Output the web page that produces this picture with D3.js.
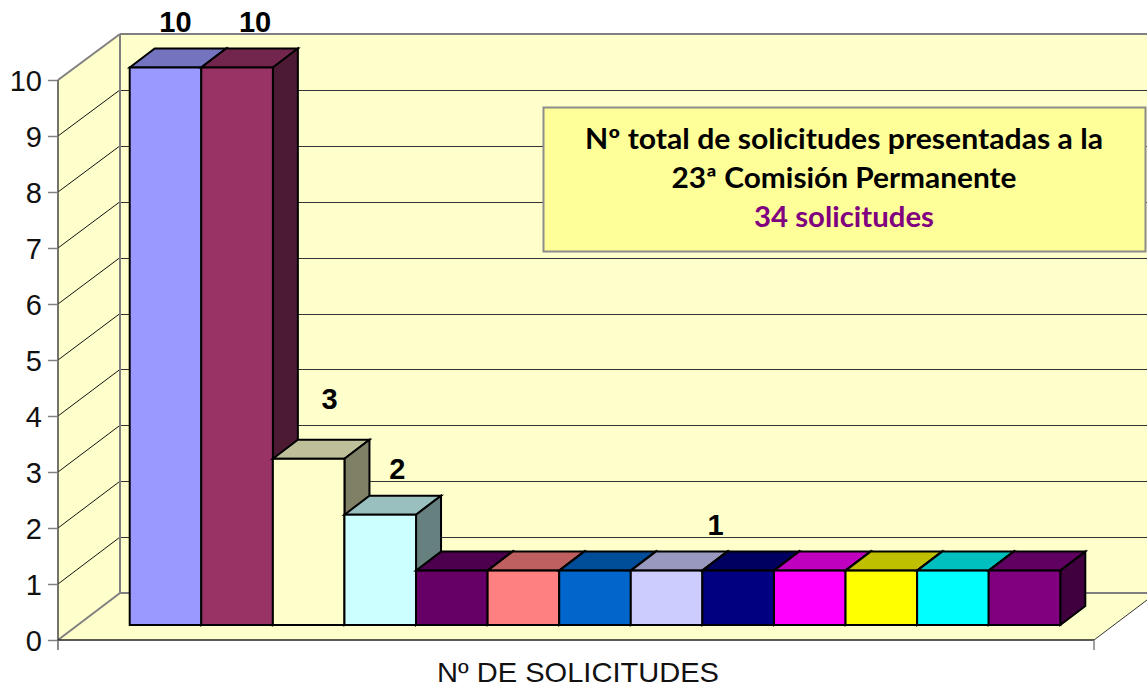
<!DOCTYPE html>
<html><head><meta charset="utf-8">
<script src="https://cdn.jsdelivr.net/npm/d3@7/dist/d3.min.js"></script>
<style>html,body{margin:0;padding:0;background:#fff;overflow:hidden}svg{display:block}</style>
</head><body><svg id="c" width="1147" height="688"></svg>
<script>
const categories = ["A","B","C","D","E","F","G","H","I","J","K","L","M"];
const seriesValues = [10,10,3,2,1,1,1,1,1,1,1,1,1];
const barColors = ["#9999ff","#993366","#ffffcc","#ccffff","#660066","#ff8080","#0066cc","#ccccff","#000080","#ff00ff","#ffff00","#00ffff","#800080"];
const yTicks = [0,1,2,3,4,5,6,7,8,9,10];
const axisTitle = "Nº DE SOLICITUDES";
const boxLines = ["Nº total de solicitudes presentadas a la","23ª Comisión Permanente","34 solicitudes"];
const labelledBars = ["A","B","C","D","H"];

const svg = d3.select("#c");
const W = 1147;
const frontX = 58, frontR = 1094, backX = 120, backTop = 34, backBot = 593, frontTop = 80, frontBot = 640;
const yFront = d3.scaleLinear().domain([0,10]).range([frontBot,frontTop]);
const yBack = d3.scaleLinear().domain([0,10]).range([backBot,backTop]);
const yBar = d3.scaleLinear().domain([0,10]).range([626.5,67.5]);
const barBase = 625;
const x = d3.scaleBand().domain(categories).range([129.7,1060.3]).padding(0);
const dx = 25, dy = 19;

// walls + floor
svg.append("path").attr("d",`M${frontX},${frontTop}L${backX},${backTop}L${W},${backTop}L${W},600L${frontR},${frontBot}L${frontX},${frontBot}Z`).attr("fill","#ffffcc");

// gridlines
const g = svg.append("g");
g.selectAll("line.back").data(yTicks.filter(t=>t>0&&t<10)).join("line").attr("class","back")
 .attr("x1",backX).attr("x2",W).attr("y1",d=>Math.round(yBack(d))+.5).attr("y2",d=>Math.round(yBack(d))+.5)
 .attr("stroke","#333").attr("stroke-width",1);
g.selectAll("line.side").data(yTicks.filter(t=>t>0&&t<10)).join("line").attr("class","side")
 .attr("x1",frontX).attr("x2",backX).attr("y1",d=>yFront(d)).attr("y2",d=>yBack(d))
 .attr("stroke","#111").attr("stroke-width",1);

// wall edges
const edge = (a,b,c,d,col,w)=>svg.append("line").attr("x1",a).attr("y1",b).attr("x2",c).attr("y2",d).attr("stroke",col).attr("stroke-width",w);
edge(backX,backTop,W,backTop,"#808080",2);
edge(backX,backTop,backX,backBot,"#808080",2);
edge(backX,backBot,W,backBot,"#808080",2);
edge(frontX,frontTop,backX,backTop,"#808080",2);
edge(frontX,frontBot,backX,backBot,"#808080",2);
edge(frontR,frontBot,W,600,"#333",1);

// axis
const axis = d3.axisLeft(yFront).tickValues(yTicks).tickSize(10).tickPadding(6).tickFormat(d3.format("d"));
const ag = svg.append("g").attr("transform",`translate(${frontX},0)`).call(axis);
ag.select(".domain").attr("stroke","#444").attr("stroke-width",1.5).attr("d",`M0,${frontTop}V${frontBot}`);
ag.selectAll(".tick line").attr("stroke","#808080").attr("stroke-width",1.5);
ag.selectAll("text").attr("font-family","'Liberation Sans'").attr("font-size",29).attr("fill","#111").attr("dy","0.37em");
edge(frontX,frontBot,frontR,frontBot,"#222",1.5);
edge(frontX,frontBot,frontX,650,"#666",1.5);
edge(frontR,frontBot,frontR,650,"#808080",1.5);

// bars
const rows = categories.map((c,i)=>({c,v:seriesValues[i],col:barColors[i]}));
const shade = (c,k)=>{const r=d3.rgb(c);return d3.rgb(r.r*k,r.g*k,r.b*k);};
const bars = svg.append("g").selectAll("g").data(rows).join("g");
const style = s=>s.attr("stroke","#000").attr("stroke-width",2).attr("stroke-linejoin","miter");
bars.append("path").attr("d",d=>{const a=x(d.c),b=a+x.bandwidth(),t=yBar(d.v);
  return `M${a},${t}L${a+dx},${t-dy}L${b+dx},${t-dy}L${b},${t}Z`;})
  .attr("fill",d=>shade(d.col,.75)).call(style);
bars.append("path").attr("d",d=>{const b=x(d.c)+x.bandwidth(),t=yBar(d.v);
  return `M${b},${t}L${b+dx},${t-dy}L${b+dx},${barBase-dy}L${b},${barBase}Z`;})
  .attr("fill",d=>shade(d.col,.5)).call(style);
bars.append("rect").attr("x",d=>x(d.c)).attr("y",d=>yBar(d.v)).attr("width",x.bandwidth()).attr("height",d=>barBase-yBar(d.v))
  .attr("fill",d=>d.col).call(style);

// data labels (offset as placed in the original)
const labelShift = {A:[10,-35.5],B:[18,-35.5],C:[21,-50],D:[17,-36],H:[49,-36]};
svg.append("g").selectAll("text").data(rows.filter(d=>labelledBars.includes(d.c))).join("text")
 .attr("x",d=>x(d.c)+x.bandwidth()/2+labelShift[d.c][0])
 .attr("y",d=>yBar(d.v)+labelShift[d.c][1])
 .attr("text-anchor","middle").attr("font-family","'Liberation Sans'").attr("font-weight","bold").attr("font-size",29)
 .attr("fill","#000").text(d=>d.v);

// axis title
svg.append("text").attr("x",578).attr("y",682).attr("text-anchor","middle").attr("font-family","'Liberation Sans'").attr("font-size",28)
 .attr("textLength",282).attr("lengthAdjust","spacingAndGlyphs").attr("fill","#111").text(axisTitle);

// info box
const lineWidths = [518,345,180];
svg.append("rect").attr("x",543.5).attr("y",107.5).attr("width",602).attr("height",144).attr("fill","#ffff99").attr("stroke","#8c8c8c").attr("stroke-width",2);
svg.append("g").selectAll("text").data(boxLines).join("text")
 .attr("x",844).attr("y",(d,i)=>149+i*39).attr("text-anchor","middle")
 .attr("font-family","Lato").attr("font-weight","bold").attr("font-size",28)
 .attr("textLength",(d,i)=>lineWidths[i]).attr("lengthAdjust","spacingAndGlyphs")
 .attr("fill",(d,i)=>i==2?"#800080":"#000").text(d=>d);
</script></body></html>
